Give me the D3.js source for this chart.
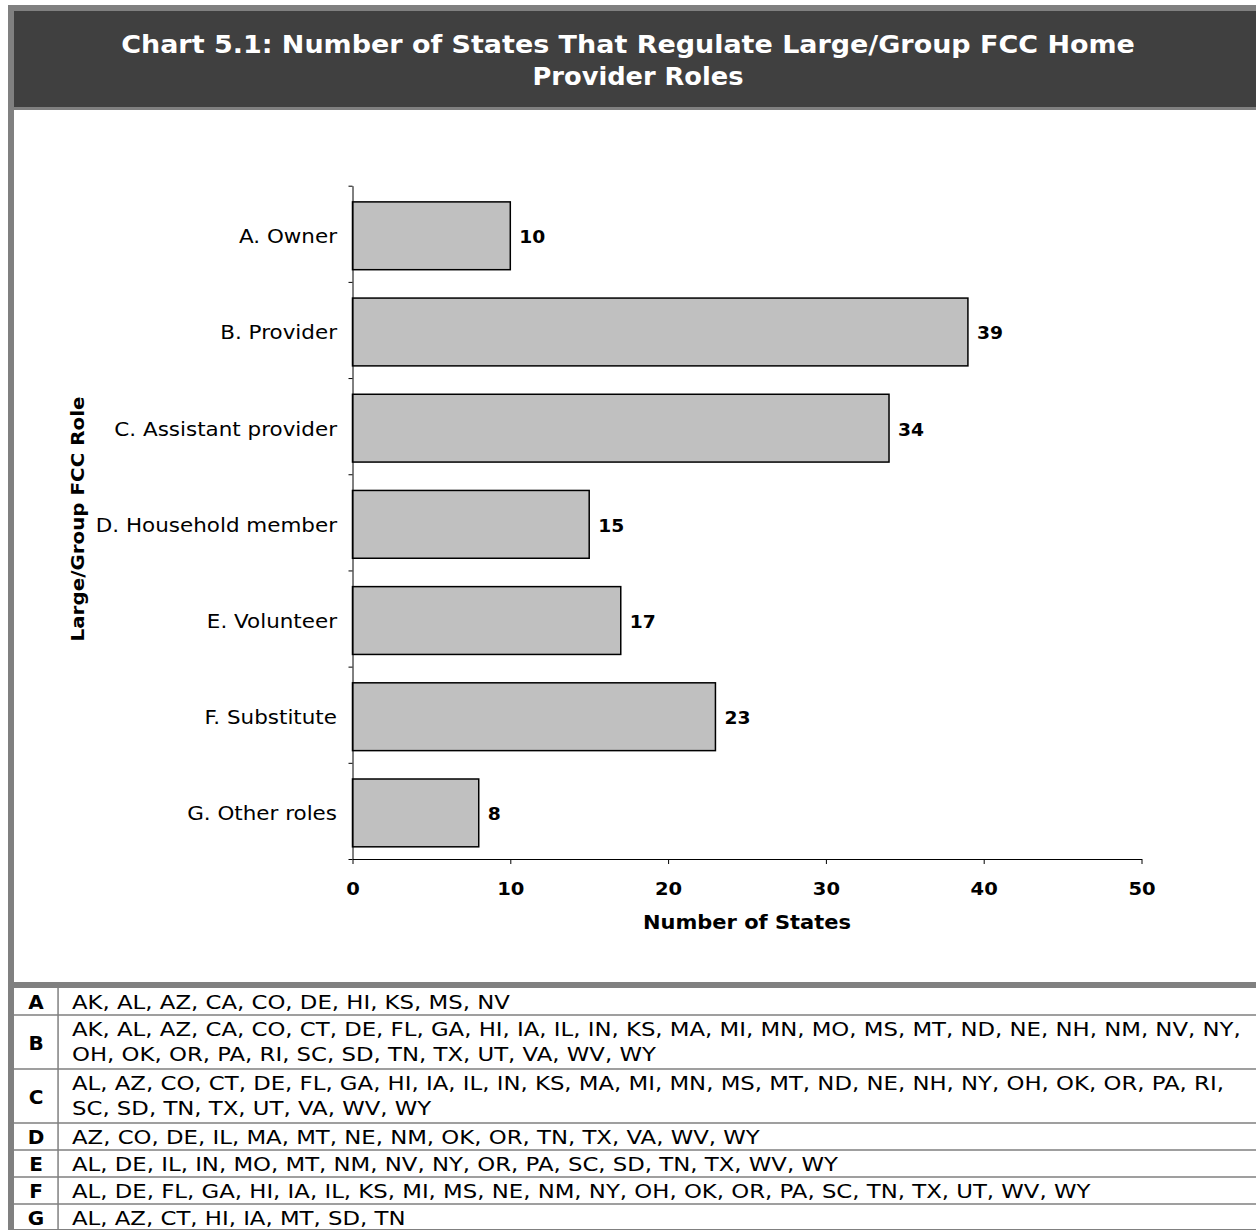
<!DOCTYPE html>
<html><head><meta charset="utf-8">
<script src="https://cdn.jsdelivr.net/npm/d3@7"></script>
<style>
html,body{margin:0;padding:0;background:#fff;}
svg{display:block;}
text{font-family:"DejaVu Sans", Verdana, sans-serif;}
</style></head><body>
<svg id="chart" width="1256" height="1230"></svg>
<script>
const titleLines = ["Chart 5.1: Number of States That Regulate Large/Group FCC Home", "Provider Roles"];
const categories = ["A. Owner", "B. Provider", "C. Assistant provider", "D. Household member", "E. Volunteer", "F. Substitute", "G. Other roles"];
const values = [10, 39, 34, 15, 17, 23, 8];
const xTicks = [0, 10, 20, 30, 40, 50];
const xAxisTitle = "Number of States";
const yAxisTitle = "Large/Group FCC Role";
const tableKeys = ["A", "B", "C", "D", "E", "F", "G"];
const statesA = ["AK","AL","AZ","CA","CO","DE","HI","KS","MS","NV"];
const statesB = ["AK","AL","AZ","CA","CO","CT","DE","FL","GA","HI","IA","IL","IN","KS","MA","MI","MN","MO","MS","MT","ND","NE","NH","NM","NV","NY","OH","OK","OR","PA","RI","SC","SD","TN","TX","UT","VA","WV","WY"];
const statesC = ["AL","AZ","CO","CT","DE","FL","GA","HI","IA","IL","IN","KS","MA","MI","MN","MS","MT","ND","NE","NH","NY","OH","OK","OR","PA","RI","SC","SD","TN","TX","UT","VA","WV","WY"];
const statesD = ["AZ","CO","DE","IL","MA","MT","NE","NM","OK","OR","TN","TX","VA","WV","WY"];
const statesE = ["AL","DE","IL","IN","MO","MT","NM","NV","NY","OR","PA","SC","SD","TN","TX","WV","WY"];
const statesF = ["AL","DE","FL","GA","HI","IA","IL","KS","MI","MS","NE","NM","NY","OH","OK","OR","PA","SC","TN","TX","UT","WV","WY"];
const statesG = ["AL","AZ","CT","HI","IA","MT","SD","TN"];
const tableStates = [statesA, statesB, statesC, statesD, statesE, statesF, statesG];

const svg = d3.select("#chart");
const GRAY = "#808080", DARK = "#404040";

// horizontal stretch of text glyphs (reference text is drawn wide)
function hscale(sel, ratioOrFn, extra) {
  sel.each(function(d, i) {
    const t = d3.select(this);
    const x0 = +t.attr("x") || 0, y0 = +t.attr("y") || 0;
    const w = this.getComputedTextLength();
    const r = typeof ratioOrFn === "function" ? ratioOrFn(w) : ratioOrFn;
    t.attr("x", 0).attr("y", 0)
      .attr("transform", `translate(${x0},${y0})${extra || ""} scale(${r},1)`);
  });
}

// frame
svg.append("rect").attr("x", 8).attr("y", 5).attr("width", 1248).attr("height", 6).attr("fill", GRAY);
svg.append("rect").attr("x", 8).attr("y", 5).attr("width", 6).attr("height", 1225).attr("fill", GRAY);
svg.append("rect").attr("x", 14).attr("y", 11).attr("width", 1242).attr("height", 96).attr("fill", DARK);
svg.append("rect").attr("x", 14).attr("y", 107).attr("width", 1242).attr("height", 3).attr("fill", GRAY);

// title
const titleTargets = [1014, 211];
const titleCenters = [628, 638];
const tt = svg.append("g").selectAll("text").data(titleLines).join("text")
  .attr("x", (d, i) => titleCenters[i]).attr("y", (d, i) => 53 + i * 32)
  .attr("text-anchor", "middle").attr("fill", "#fff")
  .attr("font-weight", "bold").attr("font-size", 24)
  .text(d => d);
tt.each(function(d, i) { hscale(d3.select(this), w => titleTargets[i] / w); });

// chart
const x = d3.scaleLinear().domain([0, 50]).range([352.5, 1141.5]);
const yEdge = d3.scaleLinear().domain([0, categories.length]).range([185.7, 859]);
const yBand = d3.scaleBand().domain(categories).range([185.7, 859]);
const yBar = d3.scaleBand().domain(categories).range([187.7, 861]).paddingInner(0.295).paddingOuter(0.1475);

const g = svg.append("g");

g.selectAll("rect.bar").data(values).join("rect").attr("class", "bar")
  .attr("x", x(0)).attr("y", (d, i) => yBar(categories[i]))
  .attr("width", d => x(d) - x(0)).attr("height", yBar.bandwidth())
  .attr("fill", "#c0c0c0").attr("stroke", "#000").attr("stroke-width", 1.5);

// y axis
const yAx = g.append("g").attr("transform", `translate(${x(0)},0)`)
  .call(d3.axisLeft(yEdge).tickValues(d3.range(categories.length + 1)).tickFormat("").tickSizeInner(4).tickSizeOuter(0));
yAx.selectAll("path,line").attr("stroke", "#000");

// x axis
const xAx = g.append("g").attr("transform", `translate(0,${yEdge(categories.length)})`)
  .call(d3.axisBottom(x).tickValues(xTicks).tickSizeInner(5).tickSizeOuter(0));
xAx.selectAll("path,line").attr("stroke", "#000");
xAx.selectAll("text").attr("font-size", 17).attr("font-weight", "bold").attr("fill", "#000")
  .attr("font-family", "DejaVu Sans").attr("dy", 0).attr("y", 36);
hscale(xAx.selectAll("text"), 1.15);

// category labels
const cl = g.selectAll("text.cat").data(categories).join("text").attr("class", "cat")
  .attr("x", 337).attr("y", d => yBand(d) + yBand.bandwidth() / 2 + 9.5)
  .attr("text-anchor", "end").attr("font-size", 19).attr("fill", "#000")
  .text(d => d);
hscale(cl, 1.13);

// value labels
const vl = g.selectAll("text.val").data(values).join("text").attr("class", "val")
  .attr("x", d => x(d) + 9)
  .attr("y", (d, i) => yBar(categories[i]) + yBar.bandwidth() / 2 + 7.5)
  .attr("font-size", 17).attr("font-weight", "bold").attr("fill", "#000")
  .text(d => d);
hscale(vl, 1.1);

// axis titles
const xt = g.append("text").attr("x", (x(0) + x(50)) / 2).attr("y", 929)
  .attr("text-anchor", "middle").attr("font-size", 19).attr("font-weight", "bold")
  .text(xAxisTitle);
hscale(xt, w => 208 / w);
const yt = g.append("text").attr("x", 84).attr("y", 519)
  .attr("text-anchor", "middle").attr("font-size", 17).attr("font-weight", "bold")
  .text(yAxisTitle);
hscale(yt, w => 245 / w, " rotate(-90)");

// table
svg.append("rect").attr("x", 14).attr("y", 982).attr("width", 1242).attr("height", 6).attr("fill", GRAY);
const tg = svg.append("g");
const textX = 72, maxRight = 1245, tRatio = 1.14;
const meas = tg.append("text").attr("font-size", 20).attr("x", -9999).attr("y", -9999);
function widthOf(s) { meas.text(s); return meas.node().getComputedTextLength() * tRatio; }
let rowTop = 988;
const rowLines = [];
tableStates.forEach((states, i) => {
  const lines = [];
  let cur = "";
  states.forEach((s, j) => {
    const tok = s + (j < states.length - 1 ? "," : "");
    const cand = cur ? cur + " " + tok : tok;
    if (cur && textX + widthOf(cand) > maxRight) { lines.push(cur); cur = tok; }
    else cur = cand;
  });
  lines.push(cur);
  rowLines.push({ key: tableKeys[i], lines: lines, top: rowTop, h: 27 * lines.length });
  rowTop += 27 * lines.length;
});
meas.remove();

rowLines.forEach((r, i) => {
  if (i > 0) tg.append("rect").attr("x", 14).attr("y", r.top - 0.75).attr("width", 1242).attr("height", 1.5).attr("fill", GRAY);
  tg.append("text").attr("x", 36).attr("y", r.top + r.h / 2 + 7.5)
    .attr("text-anchor", "middle").attr("font-size", 20).attr("font-weight", "bold")
    .text(r.key);
  r.lines.forEach((ln, k) => {
    const t = tg.append("text").attr("x", textX).attr("y", r.top + 21 + 25 * k)
      .attr("font-size", 20).text(ln);
    hscale(t, tRatio);
  });
});
tg.append("rect").attr("x", 57.3).attr("y", 988).attr("width", 1.5).attr("height", 242).attr("fill", GRAY);
tg.append("rect").attr("x", 14).attr("y", 1229).attr("width", 1242).attr("height", 1.5).attr("fill", GRAY);
</script>
</body></html>
